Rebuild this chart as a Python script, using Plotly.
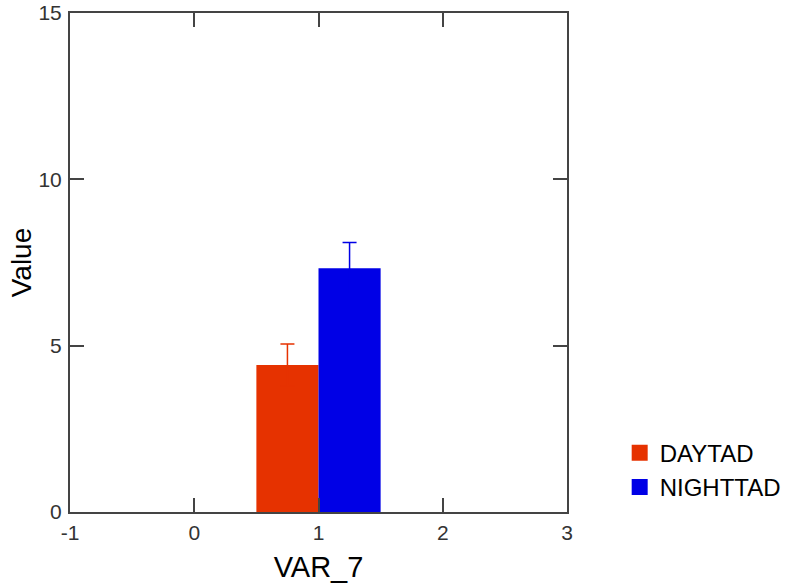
import plotly.graph_objects as go

series = ["DAYTAD", "NIGHTTAD"]
x_pos = [1, 1]
values = [4.42, 7.33]
errors = [0.63, 0.77]
colors = ["#E63200", "#0000E6"]
offsets = [-0.5, 0.0]
x_ticks = [-1, 0, 1, 2, 3]
x_ticklabels = ["-1", "0", "1", "2", "3"]
y_ticks = [0, 5, 10, 15]

fig = go.Figure()
for name, xp, v, e, c, off in zip(series, x_pos, values, errors, colors, offsets):
    fig.add_trace(go.Bar(
        x=[xp], y=[v], name=name, width=0.5, offset=off,
        marker=dict(color=c, line=dict(width=0)),
        error_y=dict(type="data", array=[e], color=c, thickness=1.5, width=7),
        showlegend=False,
    ))
# legend proxies (larger square swatches)
for name, c in zip(series, colors):
    fig.add_trace(go.Scatter(
        x=[None], y=[None], mode="markers", name=name,
        marker=dict(symbol="square", size=20, color=c),
    ))

axis_common = dict(
    showline=True, linecolor="#444444", linewidth=2, mirror="ticks",
    ticks="inside", ticklen=14, tickwidth=2, tickcolor="#444444",
    showgrid=False, zeroline=False, automargin=False,
    tickfont=dict(family="Liberation Sans, Arial", size=21, color="#333333"),
)

fig.update_layout(
    template="none",
    width=812, height=583,
    margin=dict(l=70, r=245, t=13, b=71),
    plot_bgcolor="white", paper_bgcolor="white",
    barmode="overlay",
    font=dict(family="Liberation Sans, Arial", color="#000000"),
    xaxis=dict(range=[-1, 3], tickvals=x_ticks, ticktext=x_ticklabels,
               ticklabelstandoff=1,
               title=dict(text="VAR_7", font=dict(size=29)),
               **axis_common),
    yaxis=dict(range=[0, 15], tickvals=y_ticks, ticklabelstandoff=2,
               **axis_common),
    annotations=[dict(text="Value", textangle=-90, xref="paper", yref="paper",
                      x=-0.097, y=0.5, xanchor="center", yanchor="middle",
                      showarrow=False, font=dict(size=28, color="#000000"))],
    legend=dict(x=1.106, y=0.163, xanchor="left", yanchor="top",
                font=dict(size=24, color="#000000"), traceorder="normal",
                itemsizing="trace", bgcolor="rgba(0,0,0,0)"),
    showlegend=True,
)

fig.write_html("out.html")
